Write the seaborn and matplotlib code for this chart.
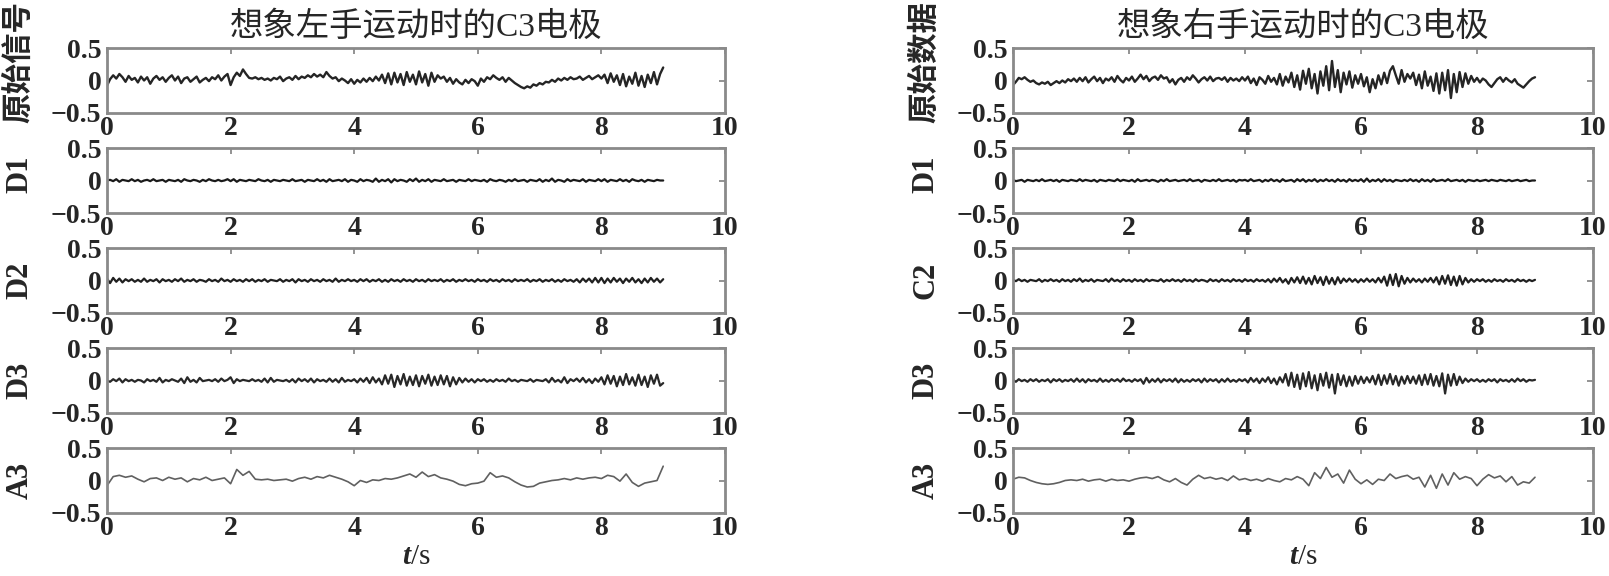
import numpy as np
import matplotlib
matplotlib.use('Agg')
import matplotlib.pyplot as plt
import seaborn as sns

# EEG wavelet decomposition, C3 electrode, left vs right hand motor imagery

left_raw = [-0.08, 0.02, 0.08, 0.03, 0.10, 0.05, -0.02, 0.07, 0.01, 0.04, -0.03, 0.06, 0.00, 0.05, -0.05, 0.03, 0.07, 0.01, 0.05, -0.02,
            0.04, 0.08, 0.00, 0.06, -0.04, 0.03, 0.05, -0.02, 0.02, 0.06, -0.03, 0.01, 0.04, -0.01, 0.05, 0.02, 0.08, 0.00, 0.06, 0.10,
            -0.07, 0.05, 0.12, 0.07, 0.17, 0.10, 0.04, 0.03, 0.05, 0.02, 0.04, 0.01, 0.03, 0.00, 0.04, 0.02, 0.06, -0.01, 0.03, 0.05,
            0.01, 0.07, 0.02, 0.06, 0.04, 0.08, 0.05, 0.10, 0.06, 0.09, 0.05, 0.13, 0.07, 0.03, 0.05, -0.01, 0.03, 0.00, -0.04, 0.02,
            -0.05, 0.01, -0.03, 0.03, -0.02, 0.04, -0.01, 0.06, 0.00, 0.09, -0.04, 0.11, -0.06, 0.12, -0.03, 0.10, -0.07, 0.13, -0.02, 0.09,
            -0.06, 0.14, -0.03, 0.10, -0.08, 0.12, -0.02, 0.08, 0.03, 0.06, -0.02, 0.04, -0.05, 0.02, -0.03, -0.06, 0.01, -0.04, 0.02, -0.01,
            -0.08, 0.03, -0.02, 0.05, 0.02, 0.08, 0.04, 0.01, 0.05, -0.02, 0.04, 0.00, -0.04, -0.07, -0.10, -0.12, -0.09, -0.11, -0.06, -0.08,
            -0.04, -0.06, -0.02, -0.03, 0.01, -0.02, 0.03, 0.00, 0.04, 0.01, 0.05, 0.02, 0.03, 0.06, 0.01, 0.04, 0.07, 0.02, 0.05, 0.08,
            0.03, 0.09, -0.04, 0.11, -0.02, 0.08, -0.07, 0.10, -0.09, 0.06, -0.05, 0.12, -0.08, 0.07, -0.10, 0.09, -0.04, 0.13, -0.06, 0.10,
            0.20]

left_d1 = [0.00, 0.01, -0.01, 0.02, -0.02, 0.01, 0.00, -0.01, 0.02, -0.01, 0.01, -0.02, 0.00, 0.01, -0.01, 0.02, -0.01, 0.00, 0.01, -0.02,
           0.01, 0.00, -0.01, 0.01, -0.02, 0.02, 0.00, -0.01, 0.01, 0.00, -0.02, 0.01, -0.01, 0.02, 0.00, -0.01, 0.01, -0.01, 0.00, 0.02,
           -0.01, 0.02, -0.02, 0.01, 0.00, -0.01, 0.01, 0.00, -0.01, 0.02, 0.00, -0.01, 0.01, -0.02, 0.01, 0.00, -0.01, 0.01, 0.00, -0.01,
           0.02, -0.01, 0.00, 0.01, -0.02, 0.01, 0.00, -0.01, 0.02, -0.01, 0.01, -0.02, 0.02, -0.01, 0.00, 0.01, -0.01, 0.02, -0.02, 0.01,
           0.00, -0.02, 0.02, -0.01, 0.01, 0.00, -0.02, 0.03, -0.02, 0.01, -0.01, 0.02, -0.03, 0.02, -0.01, 0.01, 0.00, -0.02, 0.02, -0.01,
           0.03, -0.02, 0.01, -0.01, 0.02, -0.02, 0.01, 0.00, -0.01, 0.02, -0.01, 0.00, 0.01, -0.02, 0.01, 0.00, -0.01, 0.02, -0.01, 0.01,
           0.00, -0.01, 0.01, -0.02, 0.02, 0.00, -0.01, 0.01, 0.00, -0.02, 0.01, -0.01, 0.02, -0.01, 0.00, 0.01, -0.02, 0.01, 0.00, -0.01,
           0.02, -0.02, 0.01, -0.01, 0.03, -0.02, 0.01, 0.00, -0.02, 0.02, -0.01, 0.01, 0.00, -0.01, 0.02, -0.02, 0.01, 0.00, -0.01, 0.02,
           -0.01, 0.02, -0.02, 0.01, 0.00, -0.01, 0.02, -0.01, 0.01, -0.02, 0.02, 0.00, -0.01, 0.01, -0.02, 0.01, 0.00, -0.01, 0.01, 0.00,
           0.00]

left_d2 = [0.03, -0.04, 0.04, -0.02, 0.03, -0.03, 0.02, -0.01, 0.02, -0.02, 0.01, -0.02, 0.03, -0.02, 0.01, -0.01, 0.02, -0.03, 0.02, -0.01,
           0.01, -0.02, 0.02, -0.01, 0.03, -0.02, 0.01, -0.01, 0.02, -0.02, 0.01, 0.00, -0.02, 0.02, -0.01, 0.01, -0.02, 0.03, -0.01, 0.01,
           -0.02, 0.02, -0.01, 0.01, -0.02, 0.02, -0.01, 0.02, -0.02, 0.01, -0.01, 0.02, -0.02, 0.01, 0.00, -0.01, 0.02, -0.02, 0.01, -0.01,
           0.02, -0.03, 0.02, -0.01, 0.01, -0.02, 0.02, -0.01, 0.01, -0.02, 0.02, -0.01, 0.01, -0.02, 0.03, -0.02, 0.01, -0.01, 0.02, -0.01,
           0.01, -0.02, 0.02, -0.01, 0.02, -0.02, 0.01, -0.01, 0.02, -0.02, 0.01, -0.02, 0.02, -0.01, 0.01, -0.02, 0.02, -0.01, 0.01, -0.02,
           0.02, -0.01, 0.01, -0.02, 0.02, -0.01, 0.01, -0.01, 0.02, -0.02, 0.01, -0.01, 0.02, -0.02, 0.01, -0.01, 0.02, -0.01, 0.01, -0.02,
           0.02, -0.01, 0.01, -0.02, 0.02, -0.01, 0.01, -0.02, 0.02, -0.01, 0.01, -0.02, 0.02, -0.01, 0.01, -0.01, 0.02, -0.02, 0.01, -0.01,
           0.02, -0.02, 0.01, -0.01, 0.02, -0.02, 0.01, -0.02, 0.02, -0.01, 0.01, -0.02, 0.02, -0.03, 0.03, -0.02, 0.03, -0.03, 0.04, -0.03,
           0.04, -0.04, 0.03, -0.03, 0.04, -0.02, 0.03, -0.04, 0.03, -0.02, 0.04, -0.03, 0.02, -0.04, 0.03, -0.03, 0.04, -0.02, 0.03, -0.03,
           0.02]

left_d3 = [0.00, -0.02, 0.02, -0.01, 0.03, -0.03, 0.02, -0.01, 0.01, -0.02, 0.01, 0.00, -0.03, 0.02, -0.01, 0.01, -0.02, 0.04, -0.03, 0.01,
           -0.01, 0.02, 0.00, -0.02, 0.03, -0.04, 0.05, -0.02, 0.01, -0.03, 0.04, -0.01, 0.00, 0.01, -0.01, 0.02, -0.02, 0.03, -0.01, 0.01,
           0.05, -0.04, 0.02, -0.01, 0.01, 0.00, -0.01, 0.02, -0.01, 0.01, -0.02, 0.03, -0.03, 0.04, -0.02, 0.01, 0.00, -0.01, 0.01, -0.02,
           0.02, -0.03, 0.03, -0.01, 0.02, -0.02, 0.03, -0.03, 0.02, -0.01, 0.01, -0.02, 0.03, -0.02, 0.02, -0.03, 0.04, -0.02, 0.01, -0.01,
           0.02, -0.03, 0.03, -0.02, 0.04, -0.04, 0.05, -0.03, 0.03, -0.06, 0.08, -0.05, 0.09, -0.10, 0.07, -0.06, 0.10, -0.08, 0.06, -0.07,
           0.08, -0.09, 0.07, -0.05, 0.09, -0.08, 0.06, -0.07, 0.08, -0.06, 0.07, -0.09, 0.05, -0.06, 0.04, -0.03, 0.03, -0.02, 0.02, -0.03,
           0.02, -0.01, 0.02, -0.02, 0.01, -0.02, 0.02, -0.01, 0.01, -0.02, 0.03, -0.01, 0.01, -0.02, 0.01, 0.00, -0.01, 0.02, -0.02, 0.01,
           0.00, -0.01, 0.02, -0.03, 0.04, -0.02, 0.01, -0.03, 0.05, -0.04, 0.02, -0.01, 0.03, -0.02, 0.04, -0.03, 0.02, -0.04, 0.03, -0.02,
           0.05, -0.06, 0.08, -0.05, 0.07, -0.09, 0.06, -0.07, 0.10, -0.06, 0.05, -0.08, 0.09, -0.07, 0.06, -0.10, 0.08, -0.05, 0.09, -0.08,
           -0.04]

left_a3 = [-0.08, 0.06, 0.08, 0.05, 0.07, 0.02, -0.02, 0.03, 0.04, 0.00,
           0.05, 0.02, 0.04, -0.02, 0.03, 0.01, 0.05, 0.00, 0.02, 0.04,
           -0.05, 0.17, 0.08, 0.14, 0.02, 0.01, 0.02, 0.00, 0.01, 0.02,
           -0.01, 0.03, 0.05, 0.02, 0.06, 0.04, 0.08, 0.05, 0.02, -0.02,
           -0.08, 0.00, -0.03, 0.01, 0.00, 0.03, 0.02, 0.04, 0.07, 0.10,
           0.05, 0.13, 0.06, 0.09, 0.04, 0.02, -0.01, -0.06, -0.08, -0.05,
           -0.04, -0.01, 0.12, 0.05, 0.07, 0.04, -0.02, -0.07, -0.10, -0.09,
           -0.04, -0.02, 0.00, 0.01, 0.03, 0.01, 0.04, 0.02, 0.04, 0.05,
           0.03, 0.08, 0.06, -0.01, 0.10, -0.03, -0.09, -0.04, -0.02, 0.00,
           0.22]

right_raw = [-0.07, -0.02, 0.04, 0.02, 0.05, 0.01, -0.02, 0.00, -0.04, -0.06, -0.03, -0.05, -0.02, -0.07, -0.04, -0.01, -0.04, 0.00, -0.03, 0.02,
             -0.01, 0.03, -0.02, 0.04, -0.01, 0.05, -0.03, 0.02, 0.06, -0.01, 0.04, -0.04, 0.03, 0.00, 0.05, -0.02, 0.07, 0.01, -0.03, 0.04,
             0.00, 0.06, -0.02, 0.03, 0.09, 0.02, 0.07, -0.01, 0.04, 0.06, 0.01, 0.08, 0.03, 0.05, -0.03, 0.02, -0.06, 0.01, 0.04, -0.02,
             0.05, 0.01, 0.08, 0.03, -0.03, 0.02, 0.05, 0.00, 0.06, -0.01, 0.03, 0.04, 0.01, 0.05, -0.02, 0.04, 0.00, 0.03, -0.01, 0.05,
             0.00, 0.06, -0.04, 0.03, -0.07, 0.05, 0.01, -0.05, 0.07, -0.02, 0.04, -0.06, 0.10, -0.08, 0.06, -0.03, 0.12, -0.10, 0.08, -0.14,
             0.15, -0.05, 0.18, -0.12, 0.10, -0.20, 0.14, -0.08, 0.22, -0.15, 0.30, -0.10, 0.16, -0.18, 0.12, -0.06, 0.14, -0.11, 0.08, -0.05,
             0.10, -0.09, 0.05, -0.18, 0.02, -0.12, 0.08, -0.06, 0.12, -0.04, 0.15, 0.22, 0.08, -0.05, 0.16, -0.02, 0.10, 0.03, 0.12, -0.07,
             0.09, -0.12, 0.14, -0.08, 0.06, -0.16, 0.11, -0.20, 0.12, -0.15, 0.16, -0.27, 0.10, -0.18, 0.13, -0.10, 0.11, -0.05, 0.07, -0.02,
             0.04, -0.03, 0.03, 0.00, -0.06, -0.10, -0.04, 0.02, 0.05, -0.02, 0.04, 0.00, -0.03, 0.02, -0.05, -0.08, -0.11, -0.06, -0.01, 0.03,
             0.05]

right_d1 = [0.01, -0.01, 0.00, 0.01, -0.02, 0.01, 0.00, -0.01, 0.01, -0.01, 0.02, -0.01, 0.00, 0.01, -0.01, 0.01, -0.02, 0.01, 0.00, -0.01,
            0.01, 0.00, -0.01, 0.02, -0.01, 0.01, 0.00, -0.01, 0.01, -0.02, 0.01, 0.00, -0.01, 0.01, 0.00, -0.01, 0.02, -0.01, 0.01, 0.00,
            -0.01, 0.01, -0.02, 0.02, -0.01, 0.00, 0.01, -0.01, 0.01, 0.00, -0.02, 0.01, -0.01, 0.02, -0.01, 0.00, 0.01, -0.01, 0.00, 0.01,
            -0.01, 0.02, -0.01, 0.00, 0.01, -0.02, 0.01, 0.00, -0.01, 0.01, -0.01, 0.02, -0.01, 0.00, 0.01, -0.01, 0.01, -0.02, 0.01, 0.00,
            0.01, -0.01, 0.02, -0.01, 0.00, 0.01, -0.02, 0.01, -0.01, 0.02, -0.01, 0.01, -0.02, 0.02, -0.01, 0.00, 0.01, -0.02, 0.02, -0.01,
            0.02, -0.02, 0.01, -0.01, 0.02, -0.02, 0.01, -0.01, 0.02, -0.01, 0.01, -0.02, 0.02, -0.01, 0.01, -0.02, 0.02, -0.01, 0.01, -0.01,
            0.02, -0.02, 0.03, -0.02, 0.01, -0.01, 0.02, -0.02, 0.02, -0.01, 0.01, -0.02, 0.01, 0.00, -0.01, 0.01, -0.01, 0.02, -0.01, 0.01,
            -0.02, 0.02, -0.01, 0.01, -0.02, 0.02, -0.01, 0.00, 0.01, -0.01, 0.02, -0.01, 0.00, 0.01, -0.01, 0.01, -0.02, 0.01, 0.00, -0.01,
            0.01, -0.01, 0.00, 0.01, -0.01, 0.01, 0.00, -0.01, 0.01, 0.00, -0.01, 0.01, -0.01, 0.00, 0.01, -0.01, 0.00, 0.01, -0.01, 0.00,
            0.00]

right_c2 = [0.01, -0.01, 0.02, -0.01, 0.01, -0.02, 0.01, 0.00, -0.01, 0.02, -0.02, 0.01, -0.01, 0.02, -0.01, 0.01, -0.02, 0.02, -0.01, 0.01,
            -0.02, 0.02, -0.01, 0.03, -0.02, 0.01, -0.01, 0.02, -0.02, 0.01, 0.00, -0.01, 0.02, -0.02, 0.03, -0.01, 0.01, -0.02, 0.02, -0.01,
            0.01, -0.02, 0.02, -0.01, 0.01, -0.02, 0.02, -0.01, 0.01, 0.00, -0.01, 0.02, -0.02, 0.01, -0.01, 0.02, -0.01, 0.01, -0.02, 0.02,
            -0.01, 0.01, -0.02, 0.02, -0.01, 0.01, 0.00, -0.02, 0.02, -0.01, 0.01, -0.02, 0.02, -0.01, 0.01, -0.02, 0.02, -0.01, 0.01, -0.02,
            0.02, -0.01, 0.01, -0.02, 0.02, -0.01, 0.01, -0.02, 0.02, -0.03, 0.03, -0.02, 0.04, -0.03, 0.02, -0.05, 0.04, -0.03, 0.05, -0.04,
            0.06, -0.05, 0.04, -0.06, 0.07, -0.04, 0.05, -0.07, 0.06, -0.05, 0.04, -0.06, 0.05, -0.04, 0.03, -0.02, 0.03, -0.02, 0.02, -0.03,
            0.02, -0.02, 0.03, -0.02, 0.02, -0.03, 0.04, -0.03, 0.06, -0.08, 0.09, -0.07, 0.10, -0.09, 0.07, -0.05, 0.04, -0.03, 0.03, -0.02,
            0.02, -0.03, 0.03, -0.02, 0.04, -0.03, 0.05, -0.06, 0.07, -0.05, 0.08, -0.07, 0.06, -0.08, 0.07, -0.06, 0.04, -0.03, 0.02, -0.02,
            0.02, -0.01, 0.02, -0.02, 0.01, -0.02, 0.02, -0.01, 0.01, -0.02, 0.02, -0.01, 0.01, -0.02, 0.02, -0.01, 0.01, -0.02, 0.01, -0.01,
            0.01]

right_d3 = [0.01, -0.02, 0.02, -0.01, 0.01, -0.02, 0.02, -0.01, 0.02, -0.02, 0.01, -0.01, 0.02, -0.03, 0.02, -0.01, 0.02, -0.02, 0.01, -0.01,
            0.02, -0.02, 0.03, -0.02, 0.02, -0.03, 0.02, -0.01, 0.01, -0.02, 0.03, -0.02, 0.01, -0.02, 0.02, -0.01, 0.02, -0.02, 0.03, -0.01,
            0.01, -0.02, 0.02, -0.01, 0.02, -0.05, 0.04, -0.03, 0.02, -0.02, 0.03, -0.03, 0.02, -0.01, 0.02, -0.02, 0.03, -0.03, 0.02, -0.02,
            0.01, -0.02, 0.02, -0.01, 0.02, -0.03, 0.03, -0.02, 0.02, -0.01, 0.02, -0.03, 0.02, -0.02, 0.03, -0.02, 0.01, -0.02, 0.02, -0.01,
            0.02, -0.03, 0.04, -0.02, 0.03, -0.04, 0.03, -0.02, 0.05, -0.04, 0.03, -0.06, 0.05, -0.03, 0.10, -0.08, 0.12, -0.10, 0.09, -0.13,
            0.11, -0.09, 0.13, -0.12, 0.08, -0.15, 0.10, -0.08, 0.12, -0.11, 0.09, -0.20, 0.10, -0.07, 0.08, -0.09, 0.06, -0.08, 0.07, -0.05,
            0.06, -0.04, 0.05, -0.03, 0.07, -0.06, 0.09, -0.07, 0.08, -0.05, 0.10, -0.06, 0.07, -0.08, 0.06, -0.05, 0.07, -0.04, 0.06, -0.05,
            0.08, -0.07, 0.09, -0.06, 0.10, -0.08, 0.07, -0.09, 0.11, -0.20, 0.09, -0.08, 0.10, -0.07, 0.06, -0.04, 0.03, -0.02, 0.02, -0.01,
            0.02, -0.02, 0.01, -0.02, 0.02, -0.01, 0.02, -0.03, 0.02, -0.01, 0.01, -0.02, 0.02, -0.02, 0.03, -0.01, 0.02, -0.02, 0.01, 0.00,
            0.01]

right_a3 = [0.02, 0.05, 0.04, 0.00, -0.03, -0.05, -0.06, -0.05, -0.03, 0.00,
            0.01, 0.00, 0.02, -0.01, 0.01, 0.02, -0.01, 0.02, 0.00, 0.01,
            -0.01, 0.02, 0.04, 0.05, 0.03, 0.06, 0.01, -0.02, 0.03, -0.03,
            -0.07, 0.02, 0.08, 0.03, 0.05, 0.02, 0.04, 0.00, 0.07, 0.01,
            0.03, 0.00, 0.02, -0.01, 0.03, 0.00, -0.02, 0.03, 0.01, 0.06,
            0.02, -0.08, 0.12, 0.03, 0.20, 0.05, 0.10, -0.04, 0.16, 0.02,
            -0.05, 0.01, -0.06, 0.02, 0.00, 0.10, 0.03, 0.06, 0.08, 0.02,
            0.05, -0.10, 0.08, -0.12, 0.10, -0.07, 0.12, 0.02, 0.06, 0.03,
            -0.08, 0.02, 0.09, 0.04, 0.07, -0.02, 0.06, -0.07, -0.02, -0.04,
            0.05]

left_title = '想象左手运动时的C3电极'
right_title = '想象右手运动时的C3电极'
left_names = ['原始信号', 'D1', 'D2', 'D3', 'A3']
right_names = ['原始数据', 'D1', 'C2', 'D3', 'A3']
left_series = [left_raw, left_d1, left_d2, left_d3, left_a3]
right_series = [right_raw, right_d1, right_c2, right_d3, right_a3]

line_colors = ['#252525', '#1a1a1a', '#202020', '#282828', '#606060']
line_widths = [1.7, 1.6, 1.6, 1.6, 1.2]

sns.set_theme(style='white')
plt.rcParams['font.family'] = ['Liberation Serif', 'Noto Sans CJK SC']
plt.rcParams['font.weight'] = 'bold'
plt.rcParams['mathtext.fontset'] = 'custom'
plt.rcParams['mathtext.it'] = 'Liberation Serif:italic'
plt.rcParams['mathtext.rm'] = 'Liberation Serif'

W, H = 1609, 576
fig = plt.figure(figsize=(W / 100, H / 100), dpi=100)

# (axes left px, axes width px, ylabel centre px, title, row labels, data)
panels = [(107, 618, 20, left_title, left_names, left_series),
          (1013, 580, 926, right_title, right_names, right_series)]

for x0, w, lab_x, title, names, series in panels:
    for i in range(5):
        top = 48 + 100 * i
        ax = fig.add_axes([x0 / W, 1 - (top + 65) / H, w / W, 65 / H])
        y = np.array(series[i])
        t = np.linspace(0, 9, len(y))
        sns.lineplot(x=t, y=y, ax=ax, color=line_colors[i], lw=line_widths[i])
        ax.set_xlim(0, 10)
        ax.set_ylim(-0.5, 0.5)
        ax.set_xticks([0, 2, 4, 6, 8, 10])
        ax.set_xticklabels(['0', '2', '4', '6', '8', '10'])
        ax.set_yticks([-0.5, 0, 0.5])
        ax.set_yticklabels(['\u22120.5', '0', '0.5'])
        ax.tick_params(direction='in', length=4, width=1.2, color='#808080',
                       top=True, right=True, labelsize=20, pad=4)
        ax.tick_params(axis='x', pad=2)
        for s in ax.spines.values():
            s.set_color('#8a8a8a')
            s.set_linewidth(2)
        if i == 0:
            ax.set_ylabel(names[i], fontsize=22, fontweight='bold')
        else:
            ax.set_ylabel(names[i], fontsize=22, fontweight='bold')
        ax.yaxis.label.set_va('center')
        ylab = 0.78 if i == 0 else (0.6 if i == 1 else 0.5)
        ax.yaxis.set_label_coords((lab_x - x0) / w, ylab)
        ax.set_xlabel('')
        if i == 0:
            ax.set_title(title, fontsize=24, pad=9)
        if i == 4:
            ax.set_xlabel('$t$/s', fontsize=21, labelpad=2)

fig.savefig('out.png', dpi=100)
